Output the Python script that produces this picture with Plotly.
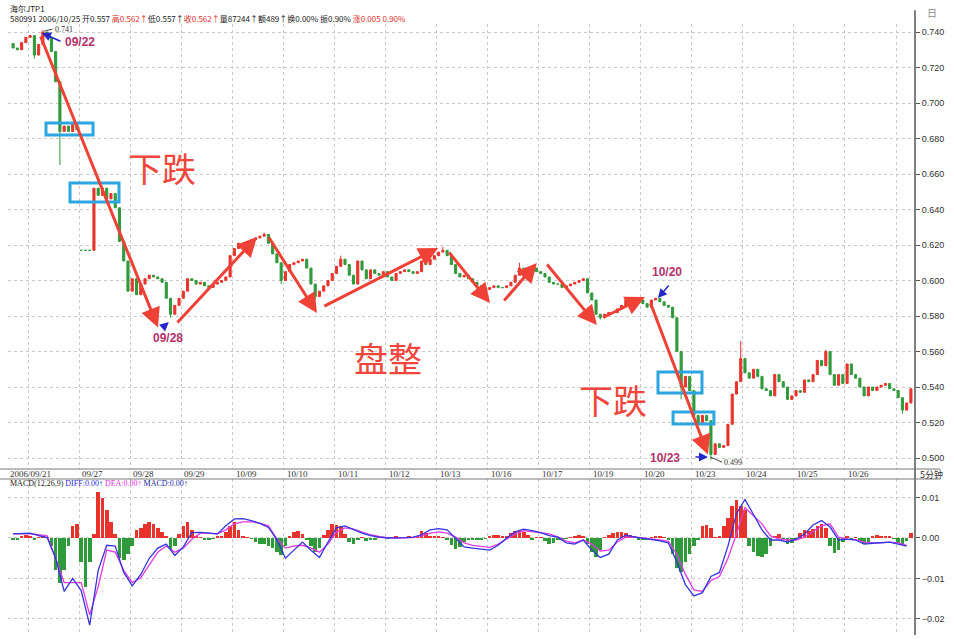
import plotly.graph_objects as go

# ---------------- data (5-minute chart, resampled to 12 bars per trading day) ----------------
bar_start = -4          # bars before the first full-day boundary
bars_per_day = 12
first_open = 0.7335

closes = [
    0.731, 0.730, 0.734, 0.737,                                                  # 09/21 (tail)
    0.738, 0.727, 0.733, 0.740, 0.737, 0.729, 0.712, 0.684, 0.687, 0.684, 0.688, 0.685,  # day 0
    0.617, 0.617, 0.617, 0.652, 0.648, 0.652, 0.646, 0.649, 0.641, 0.622, 0.611, 0.594,  # 09/27
    0.601, 0.592, 0.598, 0.601, 0.603, 0.602, 0.601, 0.599, 0.590, 0.581, 0.586, 0.590,  # 09/28
    0.594, 0.601, 0.600, 0.598, 0.599, 0.597, 0.596, 0.598, 0.599, 0.600, 0.602, 0.614,  # 09/29
    0.618, 0.621, 0.618, 0.621, 0.623, 0.624, 0.625, 0.626, 0.621, 0.615, 0.610, 0.600,  # 10/09
    0.605, 0.609, 0.610, 0.611, 0.612, 0.607, 0.598, 0.591, 0.594, 0.597, 0.600, 0.604,  # 10/10
    0.608, 0.612, 0.609, 0.603, 0.598, 0.611, 0.606, 0.601, 0.606, 0.604, 0.603, 0.605,  # 10/11
    0.602, 0.600, 0.604, 0.605, 0.606, 0.605, 0.604, 0.605, 0.611, 0.609, 0.612, 0.614,  # 10/12
    0.616, 0.617, 0.614, 0.609, 0.604, 0.602, 0.603, 0.601, 0.599, 0.597, 0.596, 0.595,  # 10/13
    0.596, 0.597, 0.596, 0.596, 0.597, 0.599, 0.603, 0.607, 0.605, 0.604, 0.607, 0.605,  # 10/16
    0.604, 0.602, 0.599, 0.598, 0.598, 0.596, 0.597, 0.598, 0.599, 0.600, 0.601, 0.593,  # 10/17
    0.589, 0.581, 0.579, 0.581, 0.582, 0.582, 0.584, 0.586, 0.589, 0.590, 0.589, 0.589,  # 10/19
    0.587, 0.585, 0.589, 0.590, 0.588, 0.586, 0.585, 0.579, 0.560, 0.540, 0.546, 0.538,  # 10/20
    0.524, 0.520, 0.524, 0.521, 0.502, 0.508, 0.506, 0.507, 0.519, 0.536, 0.543, 0.556,  # 10/23
    0.548, 0.545, 0.550, 0.546, 0.539, 0.538, 0.535, 0.547, 0.543, 0.540, 0.533, 0.535,  # 10/24
    0.538, 0.537, 0.544, 0.543, 0.547, 0.555, 0.552, 0.560, 0.547, 0.541, 0.547, 0.542,  # 10/25
    0.553, 0.547, 0.545, 0.540, 0.535, 0.540, 0.538, 0.540, 0.541, 0.542, 0.539, 0.538,  # 10/26
    0.534, 0.527, 0.531, 0.539,                                                  # 10/27 (head)
]
open_gaps = {12: 0.617}
high_marks = {3: 0.741, 55: 0.627, 73: 0.614, 97: 0.619, 115: 0.610, 167: 0.566, 187: 0.561}
low_marks = {1: 0.725, 7: 0.665, 33: 0.579, 59: 0.598, 67: 0.589, 134: 0.578,
             153: 0.533, 160: 0.499, 205: 0.525}

first_label = "2006/09/21"
day_labels = ["09/27", "09/28", "09/29", "10/09", "10/10", "10/11", "10/12", "10/13",
              "10/16", "10/17", "10/19", "10/20", "10/23", "10/24", "10/25", "10/26"]
price_ticks = [0.50, 0.52, 0.54, 0.56, 0.58, 0.60, 0.62, 0.64, 0.66, 0.68, 0.70, 0.72, 0.74]
macd_ticks = [0.01, 0.00, -0.01, -0.02]

macd_hist = [
    -0.0003, -0.0004, 0.0005, 0.0008,
    0.0003, -0.0005, 0.0002, 0.0005, 0.0001, -0.002, -0.008, -0.011, -0.008, -0.002, 0.003, 0.0035,
    -0.006, -0.012, -0.006, 0.001, 0.0114, 0.010, 0.007, 0.004, 0.001, -0.005, -0.0054, -0.004,
    -0.002, 0.002, 0.0025, 0.0035, 0.004, 0.0035, 0.0025, 0.0015, 0.0005, -0.0027, -0.002, 0.001,
    0.003, 0.004, 0.002, 0.0005, 0.0002, -0.0004, -0.0006, -0.0002, 0.0003, 0.0005, 0.0015, 0.003,
    0.004, 0.002, 0.0005, 0.0001, -0.0002, -0.001, -0.0015, -0.0015, -0.002, -0.0025, -0.0035, -0.0042,
    -0.002, 0.0005, 0.0015, 0.0018, 0.001, -0.0005, -0.002, -0.0035, -0.0025, 0.0008, 0.002, 0.0035,
    0.0033, 0.003, 0.001, -0.001, -0.0015, -0.0005, 0.0002, -0.0007, -0.0006, -0.0004, 0.0002, 0.0001,
    -0.0002, 0.0002, 0.0003, 0.0001, 0.0002, 0.0003, 0.0002, 0.0006, 0.0018, 0.0012, 0.0006, 0.0005,
    0.0004, 0.0002, -0.0005, -0.0018, -0.0028, -0.0022, -0.001, -0.0004, -0.0005, -0.0003, -0.0004, -0.0002,
    0.0003, 0.0007, 0.0008, 0.0006, 0.0004, 0.0012, 0.0018, 0.002, 0.0016, 0.0008, -0.0005, 0.0002,
    0.0001, -0.0008, -0.0015, -0.0012, -0.0004, -0.0003, -0.0002, 0.0001, 0.0006, 0.0007, 0.0005, -0.0015,
    -0.0035, -0.0047, -0.003, 0.0002, 0.0008, 0.0012, 0.0016, 0.0014, 0.0012, 0.0008, 0.0003, -0.0003,
    -0.0004, -0.0003, 0.0002, 0.0006, 0.0005, 0.0002, -0.0004, -0.004, -0.0075, -0.0084, -0.006, -0.004,
    -0.002, -0.0005, 0.003, 0.0032, 0.0025, 0.0001, 0.0005, 0.003, 0.005, 0.008, 0.0094, 0.008,
    0.007, -0.002, -0.0035, -0.0045, -0.0047, -0.004, -0.002, 0.0006, 0.001, -0.0005, -0.0015, -0.0012,
    -0.0003, 0.0012, 0.002, 0.0018, 0.0022, 0.003, 0.0035, 0.0025, -0.002, -0.0037, -0.003, -0.001,
    0.0004, -0.0003, 0.0002, -0.0008, -0.0015, -0.001, 0.0005, 0.0007, 0.0004, 0.0006, 0.0003, -0.0002,
    -0.0012, -0.0017, -0.0008, 0.0012,
]

line_step = 2   # DIFF / DEA sampled every 2 bars starting at bar_start
diff_line = [
    0.0010, 0.0011, 0.0012, 0.0006, 0.0001, -0.0050, -0.0132, -0.0100, -0.0130, -0.0215,
    -0.0080, -0.0018, -0.0020, -0.0085, -0.0118, -0.0090, -0.0050, -0.0025, -0.0015, -0.0043,
    -0.0022, 0.0013, 0.0014, 0.0012, 0.0010, 0.0030, 0.0047, 0.0048, 0.0043, 0.0036,
    0.0026, -0.0004, -0.0050, -0.0030, -0.0010, -0.0030, -0.0048, -0.0010, 0.0025, 0.0030,
    0.0020, 0.0012, 0.0006, 0.0002, 0.0000, 0.0000, 0.0001, 0.0002, 0.0008, 0.0020,
    0.0023, 0.0020, -0.0002, -0.0022, -0.0025, -0.0028, -0.0030, -0.0018, 0.0000, 0.0015,
    0.0022, 0.0018, 0.0013, 0.0006, 0.0002, -0.0012, -0.0015, -0.0005, -0.0030, -0.0048,
    -0.0040, -0.0005, 0.0007, 0.0003, 0.0000, -0.0003, -0.0007, -0.0012, -0.0060, -0.0115,
    -0.0143, -0.0135, -0.0095, -0.0085, -0.0020, 0.0060, 0.0095, 0.0058, 0.0020, -0.0005,
    -0.0005, -0.0010, -0.0003, 0.0010, 0.0032, 0.0043, 0.0027, -0.0005, -0.0003, -0.0005,
    -0.0015, -0.0013, -0.0012, -0.0010, -0.0015, -0.0020,
]
dea_line = [
    0.0010, 0.0010, 0.0010, 0.0008, 0.0005, -0.0050, -0.0110, -0.0110, -0.0110, -0.0190,
    -0.0120, -0.0030, -0.0035, -0.0080, -0.0110, -0.0098, -0.0065, -0.0035, -0.0020, -0.0035,
    -0.0025, -0.0003, 0.0012, 0.0012, 0.0010, 0.0020, 0.0035, 0.0040, 0.0040, 0.0037,
    0.0030, -0.0002, -0.0025, -0.0020, -0.0018, -0.0025, -0.0035, -0.0015, 0.0015, 0.0025,
    0.0022, 0.0015, 0.0008, 0.0004, 0.0001, 0.0000, 0.0000, 0.0001, 0.0005, 0.0012,
    0.0015, 0.0012, 0.0002, -0.0012, -0.0018, -0.0020, -0.0023, -0.0015, -0.0002, 0.0010,
    0.0018, 0.0015, 0.0013, 0.0010, 0.0003, -0.0008, -0.0012, -0.0005, -0.0015, -0.0032,
    -0.0030, -0.0010, 0.0002, 0.0002, 0.0000, -0.0002, -0.0005, -0.0008, -0.0040, -0.0090,
    -0.0128, -0.0132, -0.0105, -0.0095, -0.0050, 0.0010, 0.0075, 0.0055, 0.0035, 0.0005,
    -0.0002, -0.0005, -0.0005, 0.0002, 0.0015, 0.0030, 0.0035, 0.0002, -0.0003, -0.0004,
    -0.0010, -0.0012, -0.0012, -0.0010, -0.0012, -0.0018,
]

# ---------------- derived candle fields ----------------
xs = list(range(bar_start, bar_start + len(closes)))
opens, highs, lows = [], [], []
prev = first_open
for b, c in zip(xs, closes):
    o = open_gaps.get(b, prev)
    opens.append(o)
    highs.append(high_marks.get(b, max(o, c)))
    lows.append(low_marks.get(b, min(o, c)))
    prev = c
line_x = list(range(bar_start, bar_start + line_step * len(diff_line), line_step))
hist_x = list(range(bar_start, bar_start + len(macd_hist)))

RED = "#e8332c"
GREEN = "#2f9a3a"
ARROW_RED = "#ef4136"
BLUE_BOX = "#2aa6e0"
NAVY = "#2626c8"
DATE_COL = "#b3326a"
GRID = "#c9c9c9"
TXT = "#333333"
CJK = "Noto Sans CJK SC"

fig = go.Figure()
fig.add_trace(go.Candlestick(
    x=xs, open=opens, high=highs, low=lows, close=closes,
    increasing=dict(line=dict(color=RED, width=1), fillcolor=RED),
    decreasing=dict(line=dict(color=GREEN, width=1), fillcolor=GREEN),
    whiskerwidth=0, xaxis="x", yaxis="y", showlegend=False, hoverinfo="skip"))
fig.add_trace(go.Bar(
    x=hist_x, y=macd_hist, width=0.85,
    marker=dict(color=[RED if v >= 0 else GREEN for v in macd_hist], line=dict(width=0)),
    xaxis="x2", yaxis="y2", showlegend=False, hoverinfo="skip"))
fig.add_trace(go.Scatter(x=line_x, y=dea_line, mode="lines",
                         line=dict(color="#e03ce0", width=1.3),
                         xaxis="x2", yaxis="y2", showlegend=False, hoverinfo="skip"))
fig.add_trace(go.Scatter(x=line_x, y=diff_line, mode="lines",
                         line=dict(color="#3535e0", width=1.3),
                         xaxis="x2", yaxis="y2", showlegend=False, hoverinfo="skip"))

day_bounds = [bars_per_day * k - 0.5 for k in range(0, len(day_labels) + 2)]
xrange = [-5.2, 207.96]
common_x = dict(range=xrange, tickvals=day_bounds, showticklabels=False, ticks="",
                showgrid=True, gridcolor=GRID, griddash="dot", gridwidth=1,
                zeroline=False, showline=False, fixedrange=True)

fig.update_layout(
    width=954, height=639,
    margin=dict(l=8, r=39, t=0, b=0),
    paper_bgcolor="white", plot_bgcolor="white",
    bargap=0,
    xaxis=dict(domain=[0, 1], anchor="y", rangeslider=dict(visible=False), **common_x),
    xaxis2=dict(domain=[0, 1], anchor="y2", **common_x),
    yaxis=dict(domain=[0.2660, 0.9624], range=[0.4938, 0.7445], side="right",
               tickvals=price_ticks, tickformat=".3f", ticks="outside", ticklen=4,
               tickcolor="#555", tickfont=dict(size=9, color=TXT, family="Liberation Sans"),
               showgrid=True, gridcolor=GRID, griddash="dot", zeroline=False, showline=False),
    yaxis2=dict(domain=[0.0063, 0.2504], range=[-0.02395, 0.01457], side="right",
                tickvals=macd_ticks, tickformat=".2f", ticks="outside", ticklen=4,
                tickcolor="#555", tickfont=dict(size=9, color=TXT, family="Liberation Sans"),
                showgrid=True, gridcolor=GRID, griddash="dot", zeroline=False, showline=False),
)

shapes = [
    dict(type="line", xref="paper", yref="paper", x0=1.0, x1=1.0, y0=0.0063, y1=0.984,
         line=dict(color="#555", width=1.5)),
    dict(type="line", xref="paper", yref="paper", x0=-0.01, x1=1.028, y0=0.2660, y1=0.2660,
         line=dict(color="#777", width=1)),
    dict(type="line", xref="paper", yref="paper", x0=-0.01, x1=1.028, y0=0.2504, y1=0.2504,
         line=dict(color="#777", width=1)),
    # leader lines for the extreme prices
    dict(type="line", xref="x", yref="y", x0=3.3, y0=0.7405, x1=5.2, y1=0.7416,
         line=dict(color="#444", width=1)),
    dict(type="line", xref="x", yref="y", x0=159.9, y0=0.5005, x1=162.6, y1=0.4977,
         line=dict(color="#444", width=1)),
]
boxes = [(3.73, 14.78, 0.6820, 0.6887), (9.37, 20.89, 0.6442, 0.6549),
         (147.56, 157.9, 0.5366, 0.5485), (151.1, 160.7, 0.5192, 0.5259)]
for x0, x1, y0, y1 in boxes:
    shapes.append(dict(type="rect", xref="x", yref="y", x0=x0, x1=x1, y0=y0, y1=y1,
                       line=dict(color=BLUE_BOX, width=3), fillcolor="rgba(0,0,0,0)"))
fig.update_layout(shapes=shapes)

ann = []
# header
ann.append(dict(xref="paper", yref="paper", x=0, y=0.9860, xanchor="left", yanchor="middle",
                text="海尔JTP1", showarrow=False, font=dict(size=8, color="#222", family=CJK)))
hdr = ("580991 2006/10/25 开0.557 <span style='color:#e0302a'>高0.562↑</span>低0.557↑"
       "<span style='color:#e0302a'>收0.562↑</span>量87244↑额489↑换0.00% 振0.90% "
       "<span style='color:#e0302a'>涨0.005 0.90%</span>")
ann.append(dict(xref="paper", yref="paper", x=0, y=0.9705, xanchor="left", yanchor="middle",
                text=hdr, showarrow=False, font=dict(size=8, color="#222", family=CJK)))
ann.append(dict(xref="paper", yref="paper", x=1.011, y=0.981, xanchor="left", yanchor="middle",
                text="日", showarrow=False, font=dict(size=10, color="#888", family=CJK)))
# date labels
ann.append(dict(xref="paper", yref="paper", x=0, y=0.2582, xanchor="left", yanchor="middle",
                text=first_label, showarrow=False,
                font=dict(size=9, color=TXT, family="Liberation Serif")))
for k, lab in enumerate(day_labels, start=1):
    ann.append(dict(xref="x", yref="paper", x=day_bounds[k] + 0.3, y=0.2582, xanchor="left",
                    yanchor="middle", text=lab, showarrow=False,
                    font=dict(size=9, color=TXT, family="Liberation Serif")))
ann.append(dict(xref="paper", yref="paper", x=1.003, y=0.2582, xanchor="left", yanchor="middle",
                text="5分钟", showarrow=False, font=dict(size=9, color=TXT, family=CJK)))
# MACD header
macd_hdr = ("MACD(12,26,9) <span style='color:#2a2ae0'>DIFF:0.00↑</span> "
            "<span style='color:#e030e0'>DEA:0.00↑</span> "
            "<span style='color:#1a1aa0'>MACD:0.00↑</span>")
ann.append(dict(xref="paper", yref="paper", x=0, y=0.2426, xanchor="left", yanchor="middle",
                text=macd_hdr, showarrow=False,
                font=dict(size=8, color="#222", family="Liberation Serif")))

# red trend arrows: (tail_x, tail_y, head_x, head_y) in bar / price units
trend_arrows = [
    (2.32, 0.7383, 30.05, 0.5736),
    (34.28, 0.5755, 53.3, 0.6245),
    (55.9, 0.6251, 67.4, 0.5817),
    (68.8, 0.5851, 95.9, 0.6183),
    (98.2, 0.6166, 108.1, 0.5873),
    (111.1, 0.5879, 119.1, 0.6099),
    (121.2, 0.6099, 133.2, 0.5749),
    (134.4, 0.5789, 144.5, 0.5907),
    (145.7, 0.5879, 159.3, 0.5020),
]
for tx, ty, hx, hy in trend_arrows:
    ann.append(dict(xref="x", yref="y", axref="x", ayref="y", x=hx, y=hy, ax=tx, ay=ty,
                    text="", showarrow=True, arrowhead=2, arrowsize=1.3, arrowwidth=3,
                    arrowcolor=ARROW_RED))
# small blue pointer arrows
pointers = [(7.49, 0.7344, 2.79, 0.7394), (30.76, 0.5727, 32.6, 0.5766),
            (150.38, 0.5980, 147.56, 0.5901), (156.0, 0.5006, 159.3, 0.5006)]
for tx, ty, hx, hy in pointers:
    ann.append(dict(xref="x", yref="y", axref="x", ayref="y", x=hx, y=hy, ax=tx, ay=ty,
                    text="", showarrow=True, arrowhead=2, arrowsize=1.2, arrowwidth=1.5,
                    arrowcolor=NAVY))
# date callouts
for lab, x, y in [("09/22", 11.72, 0.7344), ("09/28", 32.4, 0.5676),
                  ("10/20", 149.7, 0.6048), ("10/23", 149.2, 0.5000)]:
    ann.append(dict(xref="x", yref="y", x=x, y=y, text="<b>" + lab + "</b>", showarrow=False,
                    font=dict(size=12, color=DATE_COL, family="Liberation Sans")))
# price extremes
ann.append(dict(xref="x", yref="y", x=5.3, y=0.7414, xanchor="left", yanchor="middle",
                text="0.741", showarrow=False,
                font=dict(size=8, color="#333", family="Liberation Serif")))
ann.append(dict(xref="x", yref="y", x=162.7, y=0.4977, xanchor="left", yanchor="middle",
                text="0.499", showarrow=False,
                font=dict(size=8, color="#333", family="Liberation Serif")))
# big labels
for txt, x, y in [("下跌", 31.0, 0.6634), ("盘整", 84.1, 0.5569), ("下跌", 137.0, 0.5327)]:
    ann.append(dict(xref="x", yref="y", x=x, y=y, text=txt, showarrow=False,
                    font=dict(size=34, color="#f0463c", family=CJK)))

fig.update_layout(annotations=ann)
fig.write_html("out.html", config={"displayModeBar": False},
               post_script="document.body.style.margin='0px';document.body.style.overflow='hidden';")
